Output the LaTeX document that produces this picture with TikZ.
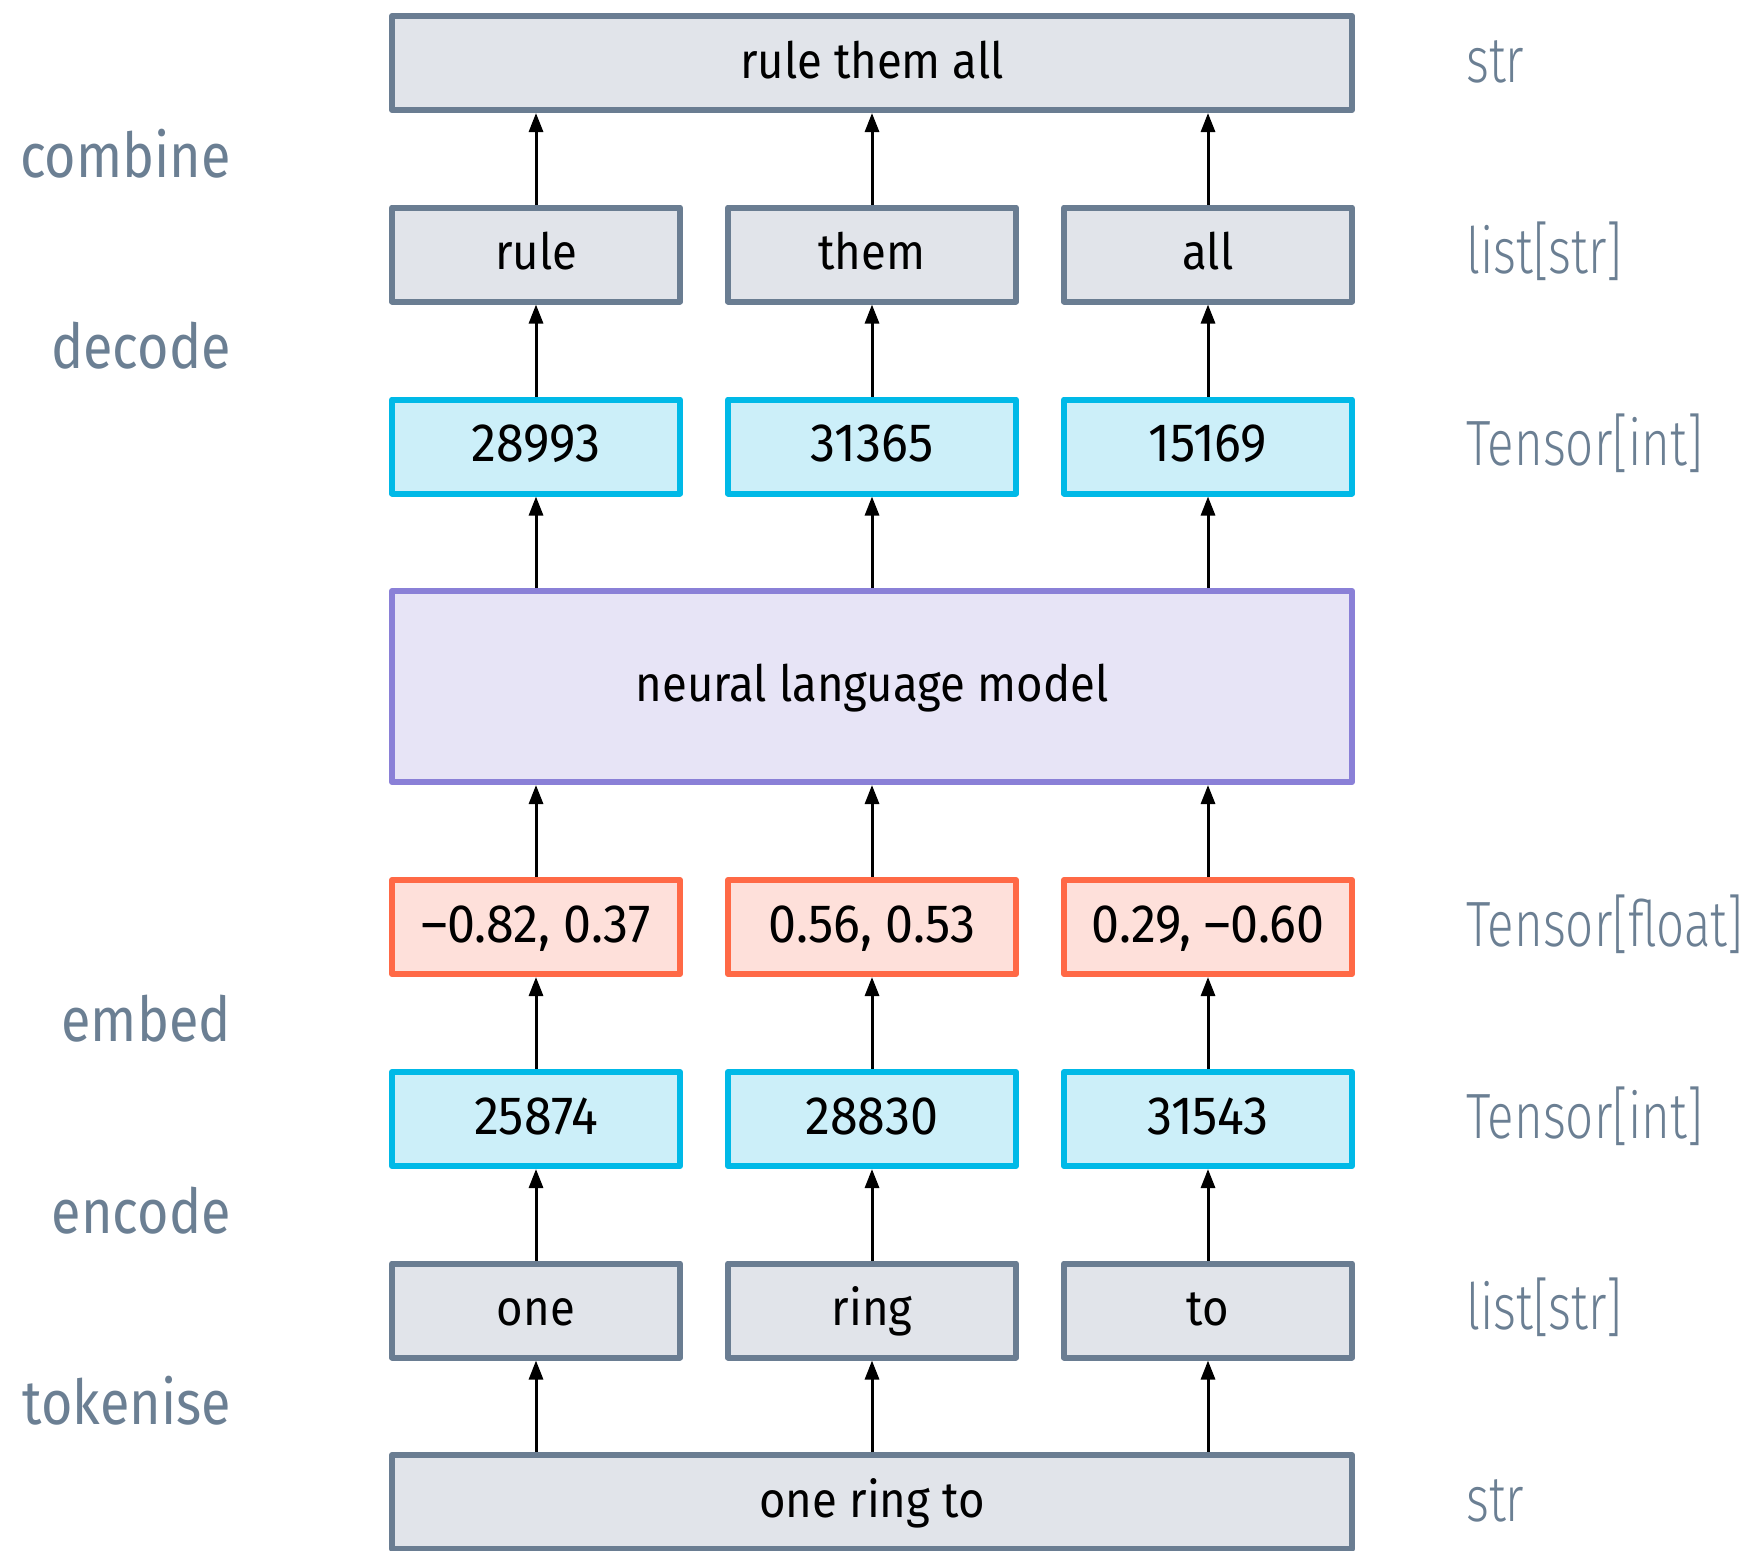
\documentclass[tikz,border=0pt]{standalone}
\usepackage{fontspec}
\setmainfont{Fira Sans}
\newfontfamily\boxfont{Fira Sans}[FakeStretch=0.91]
\newfontfamily\numfont{Fira Sans}[FakeStretch=0.93]
\newfontfamily\stagefont{Fira Sans}[FakeStretch=0.87]
\newfontfamily\kindfont{Fira Sans Light}[FakeStretch=0.77]
\usetikzlibrary{arrows.meta}

\definecolor{gfill}{HTML}{E1E4EA}
\definecolor{gline}{HTML}{6A7D92}
\definecolor{cfill}{HTML}{CCEFF9}
\definecolor{cline}{HTML}{00B9E7}
\definecolor{sfill}{HTML}{FEE0DA}
\definecolor{sline}{HTML}{FF6946}
\definecolor{pfill}{HTML}{E7E4F6}
\definecolor{pline}{HTML}{8A80D7}
\definecolor{lab}{HTML}{6B7F93}

\tikzset{
  box/.style={draw, line width=6pt, line join=round, minimum height=94pt,
    inner sep=0pt, text height=36pt, text depth=6pt,
    font=\boxfont\fontsize{50}{60}\selectfont},
  narrow/.style={box, minimum width=288pt},
  wide/.style={box, minimum width=960pt},
  num/.style={font=\numfont\fontsize{54}{64}\selectfont},
  plain/.style={fill=gfill, draw=gline},
  ids/.style={fill=cfill, draw=cline, num},
  vecs/.style={fill=sfill, draw=sline, num},
  model/.style={fill=pfill, draw=pline},
  stage/.style={text=lab, anchor=base east, inner sep=0pt,
    font=\stagefont\fontsize{62}{70}\selectfont},
  kind/.style={text=lab, anchor=base west, inner sep=0pt,
    font=\kindfont\fontsize{64}{72}\selectfont},
  arr/.style={line width=3pt, -{Triangle[length=19pt,width=14pt]}},
}

\begin{document}
\begin{tikzpicture}[x=1pt, y=-1pt]
\useasboundingbox (0,0) rectangle (1752,1550);

% pipeline boxes, from output (top) to input (bottom)
\node[wide, plain] (out) at (872,63) {rule them all};

\node[narrow, plain] (w1) at (536,254.5) {rule};
\node[narrow, plain] (w2) at (872,254.5) {them};
\node[narrow, plain] (w3) at (1208,254.5) {all};

\node[narrow, ids] (o1) at (536,446.5) {28993};
\node[narrow, ids] (o2) at (872,446.5) {31365};
\node[narrow, ids] (o3) at (1208,446.5) {15169};

\node[wide, model, minimum height=191pt] (lm) at (872,686.5) {neural language model};

\node[narrow, vecs] (e1) at (536,927) {–0.82, 0.37};
\node[narrow, vecs] (e2) at (872,927) {0.56, 0.53};
\node[narrow, vecs] (e3) at (1208,927) {0.29, –0.60};

\node[narrow, ids] (i1) at (536,1119) {25874};
\node[narrow, ids] (i2) at (872,1119) {28830};
\node[narrow, ids] (i3) at (1208,1119) {31543};

\node[narrow, plain] (t1) at (536,1310.5) {one};
\node[narrow, plain] (t2) at (872,1310.5) {ring};
\node[narrow, plain] (t3) at (1208,1310.5) {to};

\node[wide, plain] (in) at (872,1502) {one ring to};

% connectors
\foreach \k in {1,2,3} {
  \draw[arr] (in.north -| t\k) -- (t\k.south);
  \draw[arr] (t\k.north) -- (i\k.south);
  \draw[arr] (i\k.north) -- (e\k.south);
  \draw[arr] (e\k.north) -- (lm.south -| e\k);
  \draw[arr] (lm.north -| o\k) -- (o\k.south);
  \draw[arr] (o\k.north) -- (w\k.south);
  \draw[arr] (w\k.north) -- (out.south -| w\k);
}

% stage names on the left
\node[stage] (sCombine) at (231,177) {combine};
\node[stage] (sDecode) at (231,368.5) {decode};
\node[stage] (sEmbed) at (231,1041) {embed};
\node[stage] (sEncode) at (231,1233) {encode};
\node[stage] (sTokenise) at (231,1424.5) {tokenise};

% value types on the right
\node[kind] (k1) at (1466,82) {str};
\node[kind] (k2) at (1466,273.5) {list[str]};
\node[kind] (k3) at (1466,465.5) {Tensor[int]};
\node[kind] (k5) at (1466,946) {Tensor[float]};
\node[kind] (k6) at (1466,1138) {Tensor[int]};
\node[kind] (k7) at (1466,1329.5) {list[str]};
\node[kind] (k8) at (1466,1521) {str};
\end{tikzpicture}
\end{document}
